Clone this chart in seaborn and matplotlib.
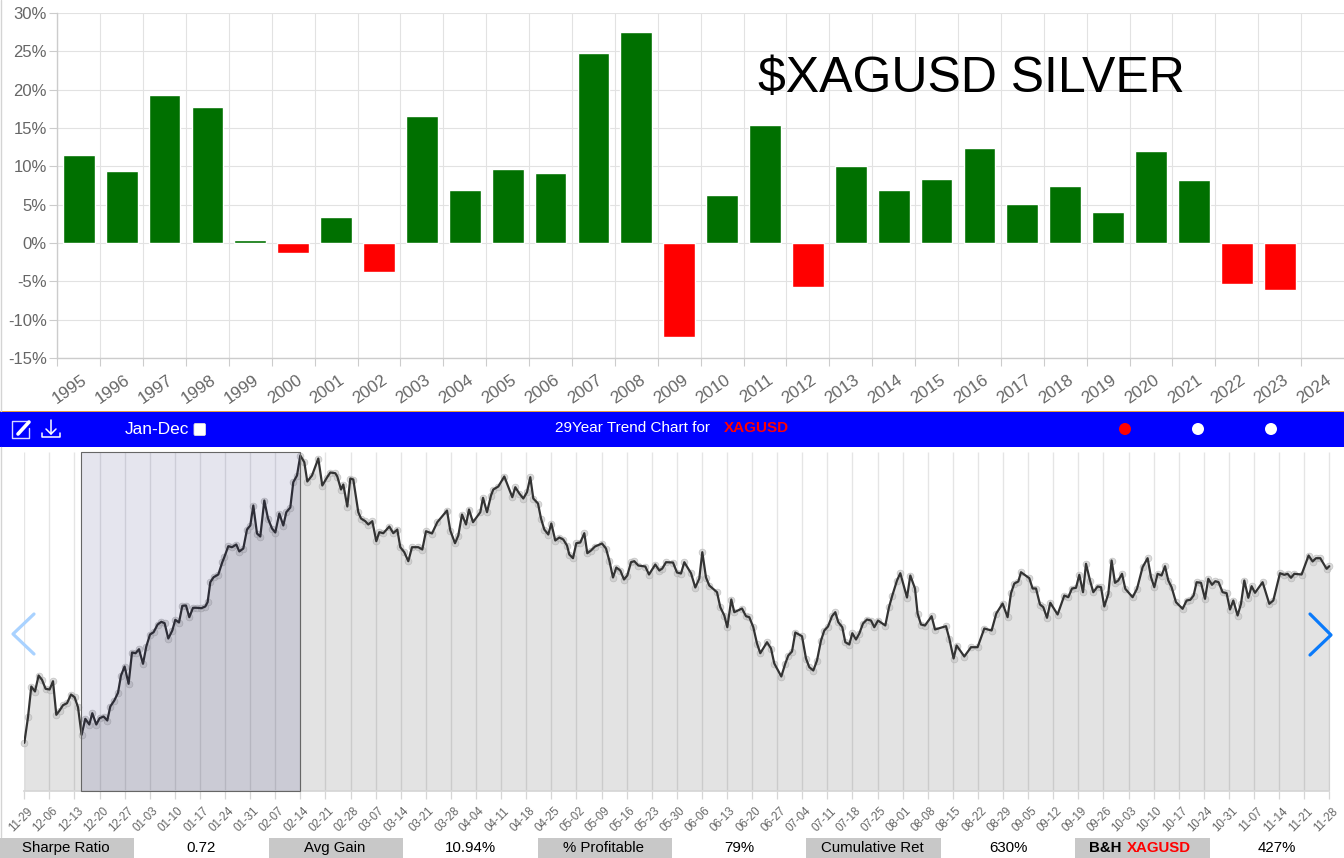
import matplotlib
matplotlib.use("Agg")
import matplotlib.pyplot as plt
from matplotlib.patches import Rectangle, FancyBboxPatch, Circle
import numpy as np
import pandas as pd
import seaborn as sns

# yearly returns, percent
years = [str(y) for y in range(1995, 2025)]
returns = [11.5, 9.4, 19.3, 17.7, 0.4, -1.3, 3.4, -3.8, 16.6, 6.9, 9.6, 9.1, 24.8, 27.5, -12.2,
           6.2, 15.4, -5.8, 10.0, 6.9, 8.4, 12.4, 5.1, 7.4, 4.1, 12.0, 8.2, -5.3, -6.1, np.nan]
ytick_vals = [-15, -10, -5, 0, 5, 10, 15, 20, 25, 30]

# seasonal trend (x along the year axis, y is an unlabelled index)
trend_x = [0, 3.7, 7, 10.7, 14.3, 17.7, 21.3, 25.3, 28.7, 32, 35.3, 38.7, 42.7, 46.7, 50.3, 53.7, 57.3, 61, 65, 68,
           72, 75.3, 79.3, 83, 86, 90, 93.7, 96.7, 100.3, 104.3, 107.7, 111.3, 114.7, 118.7, 122, 125.7, 129.3, 133.3, 137, 140.3,
           144, 148, 151, 154.7, 158, 161.7, 165, 168.7, 172.7, 177, 181, 183.3, 186, 189.3, 194, 198, 200, 204, 207.7, 212,
           215, 219, 222.7, 226, 229, 232.7, 236, 240, 243.7, 247.7, 251, 255, 259, 262, 266, 269, 272.7, 276, 280, 283,
           287.7, 294, 298, 302.7, 306, 311, 313, 316.7, 319, 323, 326, 329, 334, 336.7, 341, 344, 348, 352, 355, 359,
           365, 369, 373, 376, 380, 384, 387.7, 394, 398, 401.7, 407.7, 413, 422.7, 426, 430.7, 434, 437.7, 441.7, 444.7, 448.7,
           456, 458.7, 462.7, 466.7, 469, 474, 480, 488, 491, 495, 499, 502.7, 506, 509, 513.7, 516.7, 520, 524, 527, 531,
           535, 539, 542.7, 545, 548.7, 552, 556, 560, 563, 566.7, 570.7, 577.7, 581.7, 585, 588.7, 592, 596, 599.7, 603, 606.7,
           610, 614, 621, 624.7, 631, 635, 638, 641.7, 648.7, 652.7, 656.7, 660, 666.7, 671, 675, 678, 681.7, 685, 692.7, 696,
           700, 703, 707, 710, 717.7, 721.7, 725, 729, 732.7, 736, 742.7, 746.7, 750, 757, 761, 764, 767.7, 771, 777.7, 781.7,
           785, 789, 792.7, 796.7, 800, 803.7, 807.7, 811, 814, 818, 821, 825, 828, 831.7, 835, 838.7, 842.7, 846.7, 850, 853.7,
           861, 864.7, 868, 872.7, 876, 882.7, 886, 890.7, 893.3, 896.7, 900.7, 907.3, 910.7, 921.7, 925, 929.3, 932.3, 940, 946.7, 953.3,
           960, 967.3, 972, 978.3, 983.3, 986.7, 990, 994, 996.7, 1005, 1008.3, 1011.7, 1015.7, 1019, 1022.7, 1026, 1033.3, 1040, 1044, 1047.7,
           1051.7, 1055, 1058.7, 1061.7, 1065.7, 1069, 1073.3, 1076.7, 1080, 1084, 1087.3, 1090.7, 1094, 1097.7, 1101, 1108.3, 1112.7, 1118.3, 1123.3, 1126.7,
           1130, 1133.3, 1137.3, 1140.7, 1144, 1147.3, 1151.7, 1158.3, 1162.3, 1166, 1169.3, 1172.3, 1176.7, 1180.7, 1184, 1187.7, 1191, 1194.3, 1198.3, 1202.3,
           1205.7, 1209, 1213.3, 1216.7, 1220, 1224, 1227.3, 1230.7, 1238.3, 1245, 1249, 1255.7, 1260, 1263.3, 1266.7, 1270, 1277.3, 1284.3, 1288.3, 1291.7,
           1296, 1302.3, 1305]
trend_y = [47.7, 73.3, 104, 99, 115, 110.7, 101.7, 101, 109.3, 75.7, 80, 85.3, 87.3, 96, 93.3, 83.3, 55.7, 71.7, 66, 77.3,
           66, 72.3, 74, 70, 84, 90, 97.7, 115, 124, 106.7, 138, 137.3, 141.3, 126.7, 144, 156, 158.3, 166, 168.7, 167.3,
           152, 160, 170.7, 168, 184.7, 185, 173.3, 182.7, 182.7, 182.3, 184, 188.3, 208.3, 213.3, 216, 228.3, 233.3, 244.3, 243.3, 246,
           239, 242, 261, 265, 285, 257, 254, 290, 272, 262, 258, 277, 265, 278.3, 283, 308.3, 315, 335, 328.3, 309,
           315, 332, 305, 313, 318, 317.3, 314, 301, 306, 284, 312, 311, 278.3, 272, 269.3, 266, 269.3, 249.3, 258.3, 257.3,
           264, 257.3, 261, 243.3, 238.3, 229.3, 243.3, 243.3, 241, 259.3, 257, 268.3, 280, 260, 247.3, 255, 276, 266, 281, 268.3,
           278.3, 292.7, 278.3, 295, 301, 304, 314, 293.3, 303.3, 297, 292, 298.3, 313.3, 292, 287, 272, 261, 256, 267, 250,
           253, 251, 245, 236, 232.3, 247.3, 248, 257.3, 237.3, 240, 244, 247, 242, 230, 213, 223, 220, 211, 215, 228.3,
           229.3, 225, 224, 216, 226, 220, 222, 228.3, 228, 218, 217, 228.3, 217.3, 203, 212, 238.3, 213, 205, 198.3, 183.3,
           175, 163.3, 191, 178.3, 182, 174.3, 173.3, 163.3, 147, 137.3, 148.3, 142, 127, 114, 127, 135, 139, 158, 154.3, 132,
           123.3, 120, 130, 150, 160, 164, 174.3, 178.3, 168.3, 163.3, 148.3, 146, 157.3, 151, 157, 167, 171, 170, 163.3, 170,
           165, 183.3, 195, 210, 217.3, 193, 215, 202, 177, 166, 165, 174.3, 161, 164.3, 152, 132, 145, 134, 143.3, 143.3,
           162, 160, 177, 187, 173.3, 197.3, 207, 209, 218.3, 212.3, 202, 202, 186, 183.3, 172.7, 187.7, 176, 195, 193.3, 202,
           202.7, 215.7, 198.3, 226.7, 210, 198.3, 204, 203.3, 184, 196.7, 230, 207.7, 210, 216.7, 201.7, 193.3, 201.7, 223.3, 232.3, 213.3,
           203.3, 216.7, 215, 224.3, 210, 203.3, 188.3, 181.7, 190, 190.7, 195, 208.3, 207.7, 191.7, 211.7, 205.7, 209.3, 208.3, 198.3, 197.3,
           181, 190, 175, 186.7, 210, 192.7, 204.3, 197.7, 208.3, 186.7, 190, 217.3, 215.7, 216.7, 212.7, 216.7, 216, 235, 229, 232.3,
           232.3, 221.7, 224.3]
week_labels = ["11-29", "12-06", "12-13", "12-20", "12-27", "01-03", "01-10", "01-17", "01-24", "01-31", "02-07",
               "02-14", "02-21", "02-28", "03-07", "03-14", "03-21", "03-28", "04-04", "04-11", "04-18", "04-25",
               "05-02", "05-09", "05-16", "05-23", "05-30", "06-06", "06-13", "06-20", "06-27", "07-04", "07-11",
               "07-18", "07-25", "08-01", "08-08", "08-15", "08-22", "08-29", "09-05", "09-12", "09-19", "09-26",
               "10-03", "10-10", "10-17", "10-24", "10-31", "11-07", "11-14", "11-21", "11-28"]
window_start = 57   # selected window, trend_x units
window_end = 276

stat_names = ["Sharpe Ratio", "Avg Gain", "% Profitable", "Cumulative Ret"]
stat_values = ["0.72", "10.94%", "79%", "630%", "427%"]

W, H = 1344, 858
sns.set_theme(style="white")
plt.rcParams["font.family"] = ["Liberation Sans", "DejaVu Sans"]
plt.rcParams["text.parse_math"] = False

fig = plt.figure(figsize=(W / 100, H / 100), dpi=100, facecolor="white")


def px_axes(left, top, right, bottom, **kw):
    return fig.add_axes([left / W, 1 - bottom / H, (right - left) / W, (bottom - top) / H], **kw)


# page furniture drawn in pixel space
page = px_axes(0, 0, W, H, zorder=0)
page.set_xlim(0, W)
page.set_ylim(H, 0)
page.axis("off")
page.add_patch(Rectangle((0, 411), W, 1, color="#e8a040", lw=0))
page.add_patch(Rectangle((0, 412), W, 35, color="#0000ff", lw=0))
page.plot([0.5, 0.5], [0, 411], color="#d4d4d4", lw=1)
page.plot([0.5, 0.5], [447, 837], color="#d4d4d4", lw=1)

# --- yearly bars
ax = px_axes(57.3, 13, W, 358, zorder=1)
df = pd.DataFrame({"year": years, "ret": returns})
df["sign"] = ["down" if r < 0 else "up" for r in returns]
sns.barplot(data=df, x="year", y="ret", hue="sign", palette={"up": "#007000", "down": "#ff0000"},
            dodge=False, width=0.74, saturation=1, legend=False, ax=ax)
ax.set_xlim(-0.5, 29.5)
ax.set_ylim(-15, 30)
ax.set_xlabel("")
ax.set_ylabel("")
ax.set_yticks(ytick_vals)
ax.set_yticklabels([f"{v}%" for v in ytick_vals], fontsize=12, color="#666666")
# grid ticks sit on the band edges, the year labels are carried by unmarked minor ticks
ax.set_xticks(np.arange(len(years)) - 0.5)
ax.set_xticklabels([])
ax.set_xticks(np.arange(len(years)) - 0.2, labels=years, minor=True, fontsize=12.3, color="#666666", rotation=35)
ax.tick_params(axis="both", which="major", length=5.5, width=0.8, color="#cccccc", pad=2, left=True, bottom=True)
ax.tick_params(axis="x", which="minor", length=0, pad=10, bottom=True)
ax.grid(True, which="major", color="#e2e2e2", lw=0.8)
ax.set_axisbelow(True)
for side in ["top", "right"]:
    ax.spines[side].set_visible(False)
for side in ["left", "bottom"]:
    ax.spines[side].set_color("#cccccc")
    ax.spines[side].set_linewidth(1)
ax.patch.set_alpha(0)

# --- seasonal trend
tr = px_axes(24.3, 452, W, 790.5, zorder=1)
tr.fill_between(trend_x, trend_y, 0, color="#e3e3e3", lw=0)
ticks = np.linspace(0, 1305, len(week_labels))
tr.set_xticks(ticks)
tr.set_xticklabels([])
tr.set_xticks(ticks + 2.5, labels=week_labels, minor=True, fontsize=8.3, color="#666666", rotation=45, ha="right",
              va="top", rotation_mode="anchor")
tr.tick_params(axis="x", which="major", length=5.5, width=0.9, color="#d6d6d6", bottom=True)
tr.tick_params(axis="x", which="minor", length=0, pad=10.5, bottom=True)
tr.set_yticks([])
tr.vlines(ticks, 0, 338.5, color="black", alpha=0.1, lw=1)
sns.scatterplot(x=trend_x, y=trend_y, s=24, color="#c4c4c4", edgecolor="#a8a8a8", linewidth=0.5, alpha=0.6,
                clip_on=False, zorder=4, ax=tr)
sns.lineplot(x=trend_x, y=trend_y, color="#333333", lw=1.6, sort=False, errorbar=None, zorder=5, ax=tr)
tr.add_patch(Rectangle((window_start, 0), window_end - window_start, 338.5, facecolor="#000060", alpha=0.1, lw=0, zorder=6))
tr.add_patch(Rectangle((window_start, 0), window_end - window_start, 338.5, facecolor="none", edgecolor="#666666", lw=0.8,
                       zorder=7, clip_on=False))
tr.set_xlim(0, W - 24.3)
tr.set_ylim(0, 338.5)
tr.set_xlabel("")
tr.set_ylabel("")
for side in ["top", "right", "left"]:
    tr.spines[side].set_visible(False)
tr.spines["bottom"].set_color("#d6d6d6")
tr.spines["bottom"].set_bounds(0, 1305)
tr.patch.set_alpha(0)

# top layer: title, header bar contents, arrows, stats row
top = px_axes(0, 0, W, H, zorder=3)
top.set_xlim(0, W)
top.set_ylim(H, 0)
top.axis("off")
top.text(758, 92, "$XAGUSD SILVER", fontsize=36, color="black", va="baseline")

top.text(125, 429, "Jan-Dec", fontsize=12.4, color="white", va="center")
top.add_patch(FancyBboxPatch((194, 423.5), 11.5, 12, boxstyle="round,pad=0,rounding_size=1.5", fc="white", ec="#dddddd", lw=0.6))
top.text(555, 428.5, "29Year Trend Chart for", fontsize=10.95, color="white", va="center")
top.text(724, 428.5, "XAGUSD", fontsize=10.95, color="#ff0000", fontweight="bold", va="center")
top.add_patch(Circle((1125, 429), 6, color="#ff0000", lw=0))
top.add_patch(Circle((1198, 429), 6, color="white", lw=0))
top.add_patch(Circle((1271, 429), 6, color="white", lw=0))

# edit and download icons
top.plot([28, 20, 12, 12, 29, 29], [421, 421, 421, 438, 438, 428], color="#d8d8ff", lw=1, solid_capstyle="round")
top.plot([18, 29], [434, 422], color="white", lw=2.6)
top.plot([51, 51], [420, 434], color="white", lw=1.1)
top.plot([46, 51, 56], [429, 434, 429], color="white", lw=1.1)
top.plot([42, 42, 60, 60], [433, 437, 437, 433], color="white", lw=1.1)

# carousel arrows
top.plot([34, 13, 34], [614, 634, 654], color="#a9d2ff", lw=2.3, solid_capstyle="round")
top.plot([1310, 1331, 1310], [614, 635, 655], color="#0a7afa", lw=2.3, solid_capstyle="round")

# stats row
cells = [(0, 134), (269, 403), (538, 672), (806, 941), (1075, 1210)]
for (c0, c1) in cells:
    top.add_patch(Rectangle((c0, 837.5), c1 - c0, 20.5, color="#c8c8c8", lw=0))
for (c0, c1), name in zip(cells, stat_names):
    top.text((c0 + c1) / 2 - 1.5, 848, name, fontsize=10.8, ha="center", va="center", color="black")
for (c0, c1), val in zip(cells, stat_values):
    top.text(c1 + 67, 848, val, fontsize=10.8, ha="center", va="center", color="black")
top.text(1089, 848, "B&H", fontsize=10.8, fontweight="bold", va="center", color="black")
top.text(1127, 848, "XAGUSD", fontsize=10.8, fontweight="bold", va="center", color="#ff0000")

fig.savefig("out.png", dpi=100)
